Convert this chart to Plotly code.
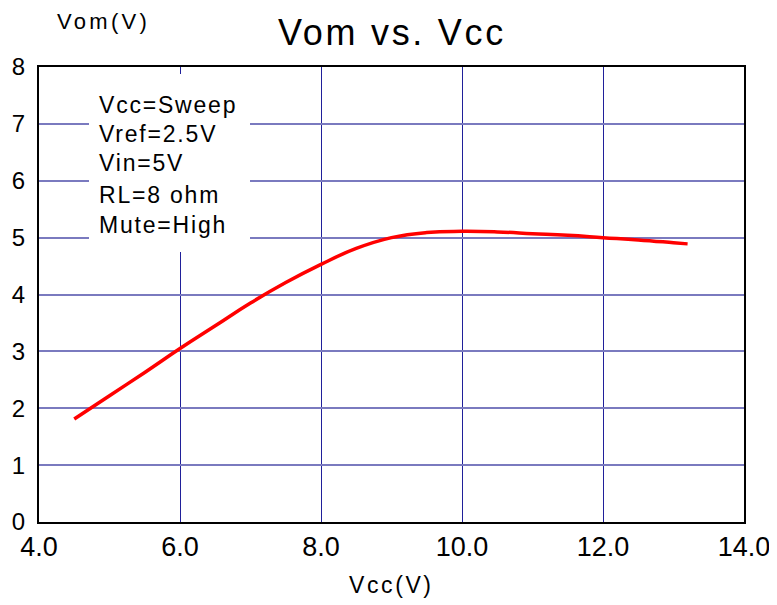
import plotly.graph_objects as go

vcc = [4.5, 5.0, 5.5, 6.0, 6.5, 7.0, 7.5, 8.0, 8.5, 9.0, 9.5, 10.0, 10.5, 11.0, 11.5, 12.0, 12.5, 13.0, 13.2]
vom = [1.81, 2.22, 2.63, 3.05, 3.45, 3.85, 4.21, 4.53, 4.81, 5.00, 5.09, 5.11, 5.10, 5.07, 5.04, 5.00, 4.96, 4.91, 4.89]
x_ticks = [4.0, 6.0, 8.0, 10.0, 12.0, 14.0]
y_ticks = [0, 1, 2, 3, 4, 5, 6, 7, 8]
box_lines = ["Vcc=Sweep", "Vref=2.5V", "Vin=5V", "RL=8 ohm", "Mute=High"]

FONT = "Liberation Sans, Arial, sans-serif"
OFF = 8  # page body margin
W, H = 777 - OFF, 605 - OFF
L, T = 39 - OFF, 67 - OFF
PW, PH = 705, 455
R, B = W - L - PW, H - T - PH


def px_x(p):  # reference-screenshot pixel -> paper coordinate
    return (p - OFF - L) / PW


def px_y(p):
    return 1 - (p - OFF - T) / PH


def spaced(txt, ls):
    return f'<span style="letter-spacing:{ls}px">{txt}</span>'


fig = go.Figure()
fig.add_trace(go.Scatter(x=vcc, y=vom, mode="lines",
                         line=dict(color="#ff0000", width=3.5, shape="spline", smoothing=1.3),
                         showlegend=False))

fig.update_layout(
    width=W, height=H,
    margin=dict(l=L, r=R, t=T, b=B, autoexpand=False),
    paper_bgcolor="white", plot_bgcolor="white",
    font=dict(family=FONT, color="black"),
    title=dict(text=spaced("Vom vs. Vcc", 2.7), x=(392 - OFF) / W, xanchor="center",
               y=1 - (32 - OFF) / H, yanchor="middle",
               font=dict(size=36, family=FONT, color="black")),
    xaxis=dict(range=[4, 14], tickvals=x_ticks, ticktext=[f"{v:.1f}" for v in x_ticks],
               showgrid=True, gridcolor="#20209a", gridwidth=1,
               showline=True, linecolor="black", linewidth=2, mirror=True,
               zeroline=False, ticks="", automargin=False,
               tickfont=dict(size=27, family=FONT, color="black")),
    yaxis=dict(range=[0, 8], tickvals=y_ticks, ticktext=[str(v) for v in y_ticks],
               showgrid=True, gridcolor="#7a7abf", gridwidth=2,
               showline=True, linecolor="black", linewidth=2, mirror=True,
               zeroline=False, ticks="", automargin=False, ticklabelstandoff=7,
               tickfont=dict(size=24, family=FONT, color="black")),
)

# white box behind the condition text
fig.add_shape(type="rect", xref="paper", yref="paper",
              x0=px_x(89), x1=px_x(250), y0=px_y(252), y1=px_y(74),
              fillcolor="white", line=dict(width=0), layer="above")

line_y = [105, 134, 163, 195, 225]
for txt, yp in zip(box_lines, line_y):
    fig.add_annotation(text=spaced(txt, 1.8), xref="paper", yref="paper",
                       x=px_x(97), y=px_y(yp), xanchor="left", yanchor="middle",
                       showarrow=False, font=dict(size=23, family=FONT, color="black"))

fig.add_annotation(text=spaced("Vom(V)", 3.3), xref="paper", yref="paper",
                   x=px_x(103), y=px_y(22), xanchor="center", yanchor="middle",
                   showarrow=False, font=dict(size=22, family=FONT, color="black"))
fig.add_annotation(text=spaced("Vcc(V)", 2.6), xref="paper", yref="paper",
                   x=px_x(392), y=px_y(585), xanchor="center", yanchor="middle",
                   showarrow=False, font=dict(size=23, family=FONT, color="black"))

fig.write_html("out.html")
